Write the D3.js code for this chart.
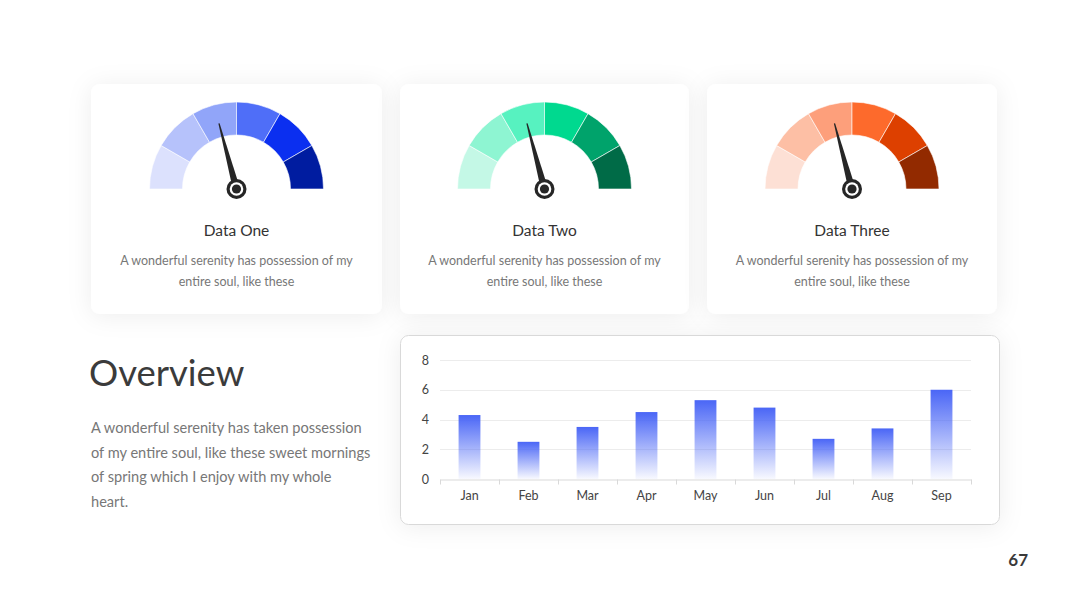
<!DOCTYPE html>
<html>
<head>
<meta charset="utf-8">
<script src="https://cdn.jsdelivr.net/npm/d3@7"></script>
<style>
  html, body { margin: 0; padding: 0; background: #ffffff; }
  svg { display: block; font-family: Lato, "Open Sans", sans-serif; }
</style>
</head>
<body>
<svg id="chart" width="1080" height="608"></svg>
<script>
// ---------- data ----------
const gaugeTitles = ["Data One", "Data Two", "Data Three"];
const gaugeNeedle = [0.417, 0.417, 0.417];           // share of the half circle
const gaugeSegments = [1, 1, 1, 1, 1, 1];             // six equal bands
const gaugeText = ["A wonderful serenity has possession of my", "entire soul, like these"];
const bluePalette   = ["#dce1fd", "#b6c2fb", "#91a5f9", "#4f6ef8", "#0b2ff0", "#001ca0"];
const greenPalette  = ["#c4f8e6", "#8ef5d2", "#57f2c0", "#00d98f", "#00a36b", "#006b47"];
const orangePalette = ["#fde0d5", "#fdbfa5", "#fd9f7b", "#fd6a2c", "#dd4000", "#922a00"];

const months = ["Jan", "Feb", "Mar", "Apr", "May", "Jun", "Jul", "Aug", "Sep"];
const monthValues = [4.3, 2.5, 3.5, 4.5, 5.3, 4.8, 2.7, 3.4, 6.0];
const yTicks = [0, 2, 4, 6, 8];

const overviewTitle = "Overview";
const overviewText = [
  "A wonderful serenity has taken possession",
  "of my entire soul, like these sweet mornings",
  "of spring which I enjoy with my whole",
  "heart."
];
const pageNumber = "67";

// ---------- drawing ----------
const svg = d3.select("#chart");
const defs = svg.append("defs");

const shadow = defs.append("filter").attr("id", "shadow")
  .attr("x", "-20%").attr("y", "-20%").attr("width", "140%").attr("height", "140%");
shadow.append("feDropShadow").attr("dx", 0).attr("dy", 2).attr("stdDeviation", 12)
  .attr("flood-color", "#000").attr("flood-opacity", 0.07);

const grad = defs.append("linearGradient").attr("id", "barGrad")
  .attr("x1", 0).attr("y1", 0).attr("x2", 0).attr("y2", 1);
grad.append("stop").attr("offset", "0%").attr("stop-color", "#4a66f6");
grad.append("stop").attr("offset", "100%").attr("stop-color", "#4a66f6").attr("stop-opacity", 0.04);

// Gauge cards
const cards = [
  { x: 91, w: 291, palette: bluePalette },
  { x: 400, w: 289, palette: greenPalette },
  { x: 707, w: 290, palette: orangePalette }
];
const cardY = 84, cardH = 230;

const pie = d3.pie().value(d => d).sort(null)
  .startAngle(-Math.PI / 2).endAngle(Math.PI / 2);
const arc = d3.arc().innerRadius(54).outerRadius(87);

cards.forEach((c, i) => {
  const g = svg.append("g");
  g.append("rect").attr("x", c.x).attr("y", cardY).attr("width", c.w).attr("height", cardH)
    .attr("rx", 9).attr("fill", "#fff").attr("filter", "url(#shadow)");
  const cx = c.x + c.w / 2, cy = 189;
  const gg = g.append("g").attr("transform", `translate(${cx},${cy})`);
  gg.selectAll("path.seg").data(pie(gaugeSegments)).join("path")
    .attr("class", "seg")
    .attr("d", arc)
    .attr("fill", (d, k) => c.palette[k])
    .attr("stroke", "#fff").attr("stroke-width", 0.6);

  const angleScale = d3.scaleLinear().domain([0, 1]).range([-90, 90]);
  const needle = gg.append("g").attr("transform", `rotate(${angleScale(gaugeNeedle[i])})`);
  needle.append("path")
    .attr("d", "M-3.6,0 L3.6,0 L0.6,-68 L-0.6,-68 Z")
    .attr("fill", "#262626");
  gg.append("circle").attr("r", 10).attr("fill", "#262626");
  gg.append("circle").attr("r", 6.8).attr("fill", "#fff");
  gg.append("circle").attr("r", 4.6).attr("fill", "#262626");

  g.append("text").attr("x", cx).attr("y", 236).attr("text-anchor", "middle")
    .attr("font-size", 15.5).attr("fill", "#333").text(gaugeTitles[i]);
  g.selectAll("text.desc").data(gaugeText).join("text")
    .attr("class", "desc")
    .attr("x", cx).attr("y", (d, k) => 265 + k * 21)
    .attr("text-anchor", "middle").attr("font-size", 12.5).attr("fill", "#777")
    .text(d => d);
});

// Overview text
svg.append("text").attr("x", 89).attr("y", 386).attr("font-size", 36.5)
  .attr("fill", "#3b3b3b").text(overviewTitle);
svg.selectAll("text.ov").data(overviewText).join("text")
  .attr("class", "ov")
  .attr("x", 91).attr("y", (d, k) => 433 + k * 24.7)
  .attr("font-size", 14.6).attr("fill", "#777").text(d => d);

// Bar chart card
svg.append("rect").attr("x", 400.5).attr("y", 335.5).attr("width", 599).attr("height", 189)
  .attr("rx", 8).attr("fill", "#fff").attr("stroke", "#d9d9d9").attr("stroke-width", 1)
  .attr("filter", "url(#shadow)");

const x = d3.scaleBand().domain(months).range([440, 971]).paddingInner(0.63).paddingOuter(0.315);
const xTicks = d3.scaleBand().domain(months).range([440, 971]);
const y = d3.scaleLinear().domain([0, 8]).range([479, 360]);

// gridlines
svg.append("g").selectAll("line").data(yTicks.filter(t => t > 0)).join("line")
  .attr("x1", 440).attr("x2", 971)
  .attr("y1", d => Math.round(y(d)) + 0.5).attr("y2", d => Math.round(y(d)) + 0.5)
  .attr("stroke", "#ececec");

// bars
svg.append("g").selectAll("rect").data(monthValues).join("rect")
  .attr("x", (d, k) => x(months[k]))
  .attr("width", x.bandwidth())
  .attr("y", d => y(d))
  .attr("height", d => y(0) - y(d))
  .attr("fill", "url(#barGrad)");

// x axis
const xAxis = svg.append("g").attr("transform", `translate(0,${Math.round(y(0)) + 0.5})`)
  .call(d3.axisBottom(xTicks).tickSize(0).tickPadding(12));
xAxis.select(".domain").attr("stroke", "#d9d9d9");
xAxis.selectAll("text").attr("font-size", 12.5).attr("fill", "#444")
  .attr("font-family", "Lato, sans-serif");
const bounds = months.map(m => xTicks(m)).concat([971]);
xAxis.selectAll("line.bt").data(bounds).join("line").attr("class", "bt")
  .attr("x1", d => Math.round(d) + 0.5).attr("x2", d => Math.round(d) + 0.5)
  .attr("y1", 0).attr("y2", 5).attr("stroke", "#d9d9d9");

// y axis
const yAxis = svg.append("g").attr("transform", "translate(440,0)")
  .call(d3.axisLeft(y).tickValues(yTicks).tickSize(0).tickPadding(11));
yAxis.select(".domain").remove();
yAxis.selectAll("text").attr("font-size", 12.5).attr("fill", "#444")
  .attr("font-family", "Lato, sans-serif");

// page number
svg.append("text").attr("x", 1028).attr("y", 566).attr("text-anchor", "end")
  .attr("font-size", 17).attr("font-weight", "bold").attr("fill", "#3a3a3a").text(pageNumber);
</script>
</body>
</html>
